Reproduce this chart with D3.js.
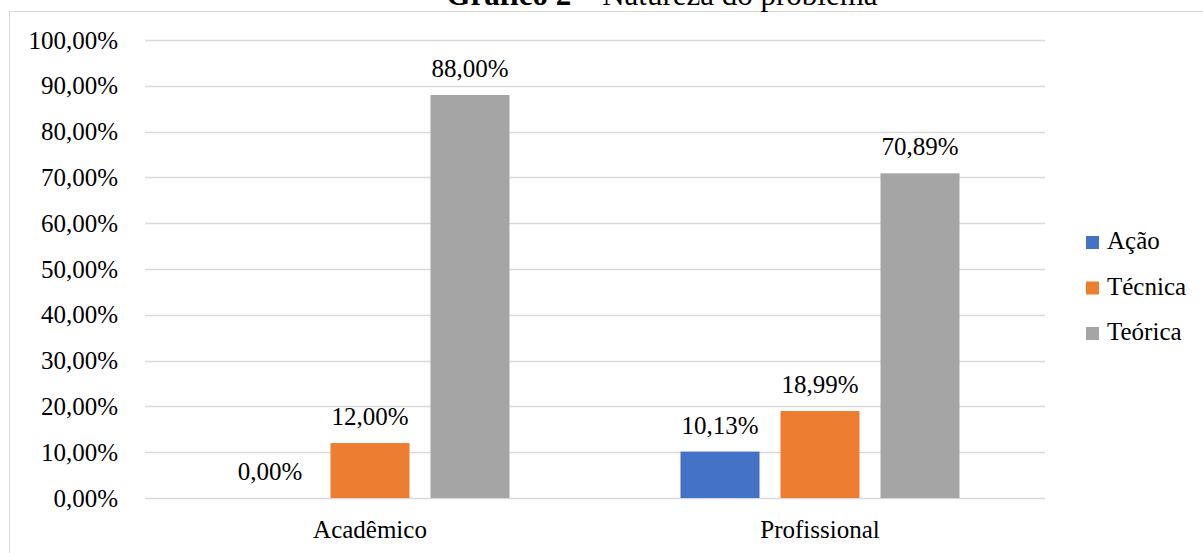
<!DOCTYPE html>
<html>
<head>
<meta charset="utf-8">
<script src="https://cdn.jsdelivr.net/npm/d3@7"></script>
<style>
  body { margin: 0; background: #fff; }
  svg { display: block; }
  text { font-family: "Liberation Serif", "Times New Roman", serif; fill: #000; }
</style>
</head>
<body>
<svg id="chart" width="1203" height="553"></svg>
<script>
const categories = ["Acadêmico", "Profissional"];
const seriesNames = ["Ação", "Técnica", "Teórica"];
const acaoValues = [0.00, 10.13];
const tecnicaValues = [12.00, 18.99];
const teoricaValues = [88.00, 70.89];
const tickValues = [0, 10, 20, 30, 40, 50, 60, 70, 80, 90, 100];
const colors = ["#4472C4", "#ED7D31", "#A5A5A5"];
const titleBold = "Gráfico 2";
const titleRest = " – Natureza do problema";

const seriesValues = [acaoValues, tecnicaValues, teoricaValues];
const fmt = v => v.toFixed(2).replace(".", ",") + "%";

const svg = d3.select("#chart");
const fontSize = 25;

// chart border (extends past the right/bottom edges)
svg.append("rect")
  .attr("x", 9.5).attr("y", 11.5)
  .attr("width", 1300).attr("height", 600)
  .attr("fill", "none").attr("stroke", "#D9D9D9").attr("stroke-width", 1);

// title (partly cut at the top, as in the reference)
const title = svg.append("text")
  .attr("x", 662).attr("y", 5)
  .attr("text-anchor", "middle")
  .style("font-size", "31px");
title.append("tspan").attr("font-weight", "bold").text(titleBold);
title.append("tspan").text(titleRest);

const plot = { left: 145, right: 1045, top: 40, bottom: 498 };

const x0 = d3.scaleBand().domain(categories).range([plot.left, plot.right]).paddingInner(0).paddingOuter(0);
const x1 = d3.scaleBand().domain(seriesNames).range([0, x0.bandwidth()]).paddingInner(0.21).paddingOuter(0.855);
const y = d3.scaleLinear().domain([0, 100]).range([plot.bottom, plot.top]);

// gridlines
svg.append("g")
  .selectAll("line")
  .data(tickValues)
  .join("line")
  .attr("x1", plot.left).attr("x2", plot.right)
  .attr("y1", d => Math.round(y(d)) + 0.5).attr("y2", d => Math.round(y(d)) + 0.5)
  .attr("stroke", "#D9D9D9").attr("stroke-width", 1.3);

// y axis labels
const yAxis = d3.axisLeft(y).tickValues(tickValues).tickFormat(d => fmt(d)).tickSize(0).tickPadding(27);
const yg = svg.append("g").attr("transform", `translate(${plot.left},0)`).call(yAxis);
yg.select(".domain").remove();
yg.selectAll("text").style("font-size", fontSize + "px").attr("font-family", "Liberation Serif").attr("fill", "#000").attr("dy", "0.32em");

// x axis labels
const xAxis = d3.axisBottom(x0).tickSize(0).tickPadding(22);
const xg = svg.append("g").attr("transform", `translate(0,${plot.bottom})`).call(xAxis);
xg.select(".domain").remove();
xg.selectAll("text").style("font-size", fontSize + "px").attr("font-family", "Liberation Serif").attr("fill", "#000");

// bars
const groups = svg.append("g").selectAll("g")
  .data(categories)
  .join("g")
  .attr("transform", d => `translate(${x0(d)},0)`);

groups.selectAll("rect")
  .data((c, ci) => seriesNames.map((s, si) => ({ s, si, v: seriesValues[si][ci] })))
  .join("rect")
  .attr("x", d => x1(d.s))
  .attr("width", x1.bandwidth())
  .attr("y", d => y(d.v))
  .attr("height", d => y(0) - y(d.v))
  .attr("fill", d => colors[d.si]);

groups.selectAll("text.lbl")
  .data((c, ci) => seriesNames.map((s, si) => ({ s, si, v: seriesValues[si][ci] })))
  .join("text")
  .attr("class", "lbl")
  .attr("x", d => x1(d.s) + x1.bandwidth() / 2)
  .attr("y", d => y(d.v) - 18)
  .attr("text-anchor", "middle")
  .style("font-size", fontSize + "px")
  .text(d => fmt(d.v));

// legend
const legend = svg.append("g").attr("transform", "translate(1086,235)");
const li = legend.selectAll("g").data(seriesNames).join("g")
  .attr("transform", (d, i) => `translate(0,${i * 45.5})`);
li.append("rect").attr("width", 13).attr("height", 13).attr("y", 1).attr("fill", (d, i) => colors[i]);
li.append("text").attr("x", 21).attr("y", 14).style("font-size", fontSize + "px").text(d => d);
</script>
</body>
</html>
